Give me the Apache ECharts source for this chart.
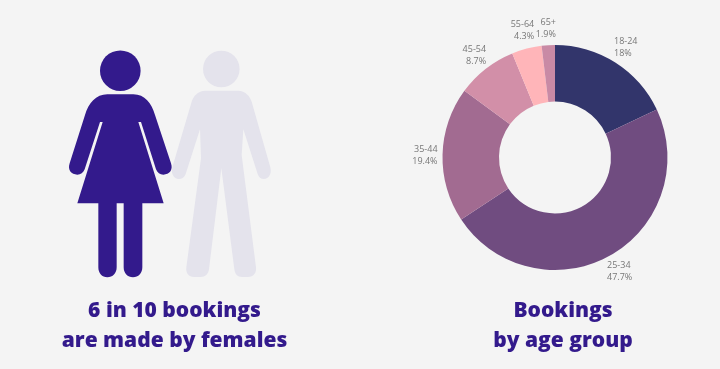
<!DOCTYPE html>
<html>
<head>
<meta charset="utf-8">
<style>
html, body { margin: 0; padding: 0; background: #f4f4f4; }
#age_chart { width: 720px; height: 369px; }
</style>
<script src="https://cdn.jsdelivr.net/npm/echarts@6/dist/echarts.min.js"></script>
</head>
<body>
<div id="age_chart"></div>
<script>
var ageGroups = ['18-24', '25-34', '35-44', '45-54', '55-64', '65+'];
var ageShares = [18, 47.7, 19.4, 8.7, 4.3, 1.9];
var ageColors = ['#32356b', '#704c80', '#a26b91', '#d28fa8', '#ffb5b9', '#c98aa5'];
var leftTitle = '6 in 10 bookings\nare made by females';
var rightTitle = 'Bookings\nby age group';

// pie labels sit a little off where echarts puts them
var labelNudge = [[-9.5, -10], [-11, 11], [6, 1], [9, -9], [14, -12], [13, -11]];

// figures drawn at 3x, scaled down in renderFigure
var femaleBody = 'M172 193 L250 193 C284 193 305 220 315 255 L363 400 C370 420 358 434 340 434 C330 434 322 428 318 418 L273 276 L265 276 L341 520 L277 520 L277 712 C277 730 265 742 249 742 C233 742 221 730 221 712 L221 520 L200 520 L200 712 C200 730 188 742 172 742 C156 742 145 730 145 712 L145 520 L82 520 L158 276 L150 276 L104 418 C100 428 92 434 82 434 C64 434 52 420 59 400 L105 255 C115 220 138 193 172 193 Z';
var maleBody = 'M465 182 L565 182 C585 182 600 198 605 215 L661 412 C666 432 656 447 642 447 C632 447 626 441 623 432 L580 298 L575 375 L618 712 C620 730 610 741 594 741 L576 741 C562 741 555 733 553 718 L514 415 L477 718 C475 733 466 741 452 741 L432 741 C416 741 407 730 409 712 L453 385 L450 298 L407 432 C404 441 396 447 386 447 C372 447 362 432 367 412 L425 215 C430 198 445 182 465 182 Z';
var figureBodies = [maleBody, femaleBody];
var figureColors = ['#e4e3ec', '#331a8c'];

function renderFigure(params) {
    return {
        type: 'path',
        x: 50,
        y: 30,
        scaleX: 1 / 3,
        scaleY: 1 / 3,
        shape: { pathData: figureBodies[params.dataIndex] },
        style: { fill: figureColors[params.dataIndex] }
    };
}

var titleStyle = { fontFamily: 'Open Sans', fontSize: 21, fontWeight: 800, color: '#331a8c', lineHeight: 30 };

var ageChart = echarts.init(document.getElementById('age_chart'));
var ageOption = {
    backgroundColor: '#f4f4f4',
    animation: false,
    title: [
        { text: leftTitle, left: 169.5, top: 291, textAlign: 'center', textStyle: titleStyle },
        { text: rightTitle, left: 558, top: 291, textAlign: 'center', textStyle: titleStyle }
    ],
    graphic: [
        { type: 'circle', shape: { cx: 120.3, cy: 70.7, r: 20.3 }, style: { fill: '#331a8c' } },
        { type: 'circle', shape: { cx: 221.3, cy: 69, r: 18.3 }, style: { fill: '#e4e3ec' } }
    ],
    series: [
        {
            name: 'figures',
            type: 'custom',
            coordinateSystem: 'none',
            silent: true,
            data: [0, 1],
            renderItem: renderFigure
        },
        {
            name: 'age',
            type: 'pie',
            center: [555, 157.5],
            radius: [56, 112.5],
            startAngle: 90,
            avoidLabelOverlap: false,
            data: ageGroups.map(function (name, i) {
                return { name: name, value: ageShares[i], itemStyle: { color: ageColors[i] } };
            }),
            label: {
                position: 'outer',
                formatter: '{b}\n{c}%',
                fontFamily: 'Open Sans',
                fontSize: 9,
                lineHeight: 12,
                color: '#777777',
                align: 'center'
            },
            labelLine: { show: false, length: 6, length2: 0 },
            labelLayout: function (params) {
                return { dx: labelNudge[params.dataIndex][0], dy: labelNudge[params.dataIndex][1] };
            },
            emphasis: { disabled: true }
        }
    ]
};
ageChart.setOption(ageOption);
</script>
</body>
</html>
